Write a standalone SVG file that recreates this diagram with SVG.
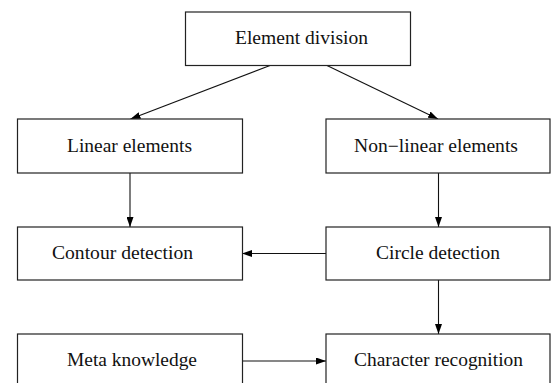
<svg xmlns="http://www.w3.org/2000/svg" width="552" height="383" viewBox="0 0 552 383">
<style>
.box{fill:#fff;stroke:#222;stroke-width:1.2}
.lbl{font-family:"Liberation Serif","Times New Roman",serif;font-size:18px;fill:#111;text-anchor:middle}
.edge{stroke:#111;stroke-width:1.1;fill:none;marker-end:url(#ah)}
</style>
<defs>
<marker id="ah" markerUnits="userSpaceOnUse" markerWidth="11" markerHeight="7" refX="10" refY="3.5" orient="auto">
<path d="M0,0 L10,3.5 L0,7 z" fill="#000"/>
</marker>
</defs>
<rect width="552" height="383" fill="#fff"/>
<g id="connectors">
<line class="edge" x1="270" y1="65.5" x2="130.5" y2="119"/>
<line class="edge" x1="327" y1="65.5" x2="438" y2="119"/>
<line class="edge" x1="130" y1="173" x2="130" y2="227"/>
<line class="edge" x1="438.5" y1="173" x2="438.5" y2="227"/>
<line class="edge" x1="438.5" y1="280" x2="438.5" y2="334"/>
<line class="edge" x1="326" y1="253.5" x2="242" y2="253.5"/>
<line class="edge" x1="242" y1="361" x2="326" y2="361"/>
</g>
<g id="element-division">
<rect class="box" x="185.5" y="12" width="225" height="53.5"/>
<text class="lbl" x="301.5" y="44" textLength="133" lengthAdjust="spacingAndGlyphs">Element division</text>
</g>
<g id="linear-elements">
<rect class="box" x="17.5" y="119" width="225" height="54"/>
<text class="lbl" x="129.5" y="152" textLength="125" lengthAdjust="spacingAndGlyphs">Linear elements</text>
</g>
<g id="non-linear-elements">
<rect class="box" x="326" y="119" width="224" height="54"/>
<text class="lbl" x="436" y="152" textLength="164" lengthAdjust="spacingAndGlyphs">Non−linear elements</text>
</g>
<g id="contour-detection">
<rect class="box" x="17.5" y="227" width="225" height="53"/>
<text class="lbl" x="122.5" y="258.5" textLength="141" lengthAdjust="spacingAndGlyphs">Contour detection</text>
</g>
<g id="circle-detection">
<rect class="box" x="326" y="227" width="224" height="53"/>
<text class="lbl" x="438" y="258.5" textLength="124" lengthAdjust="spacingAndGlyphs">Circle detection</text>
</g>
<g id="meta-knowledge">
<rect class="box" x="17.5" y="334" width="225" height="54"/>
<text class="lbl" x="132" y="366" textLength="130" lengthAdjust="spacingAndGlyphs">Meta knowledge</text>
</g>
<g id="character-recognition">
<rect class="box" x="326" y="334" width="224" height="54"/>
<text class="lbl" x="438.5" y="366" textLength="169" lengthAdjust="spacingAndGlyphs">Character recognition</text>
</g>
</svg>
